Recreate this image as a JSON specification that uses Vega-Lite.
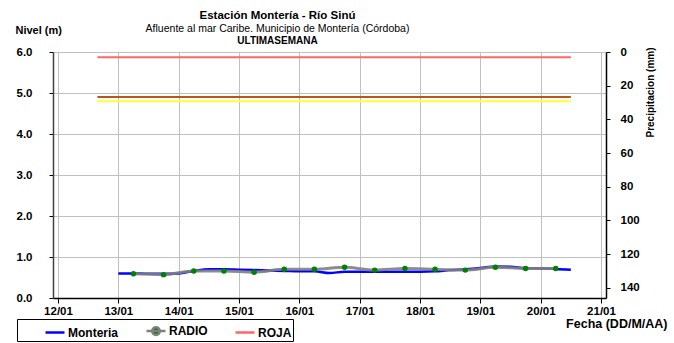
{
  "$schema": "https://vega.github.io/schema/vega-lite/v6.json",
  "width": 553,
  "height": 246,
  "autosize": "none",
  "padding": {"left": 53, "top": 52, "right": 68, "bottom": 45},
  "background": "white",
  "config": {
    "font": "Liberation Sans",
    "view": {"stroke": null},
    "axis": {"labelFont": "Liberation Sans", "titleFont": "Liberation Sans", "labelFontWeight": "bold", "labelFontSize": 11.5, "labelColor": "black", "titleColor": "black", "domainColor": "black", "tickColor": "black", "gridColor": "#C0C0C0"}
  },
  "title": {
    "text": "Estación Montería - Río Sinú",
    "subtitle": "Afluente al mar Caribe. Municipio de Montería (Córdoba)",
    "anchor": "middle",
    "dx": -52,
    "font": "Liberation Sans",
    "fontSize": 11.5,
    "fontWeight": "bold",
    "color": "black",
    "subtitleFont": "Liberation Sans",
    "subtitleFontSize": 10.5,
    "subtitleColor": "black",
    "subtitlePadding": 2,
    "offset": -10
  },
  "datasets": {
    "umbrales": [
      {"series": "ROJA", "fecha": "2024-01-12T15:40:00Z", "nivel": 5.87},
      {"series": "ROJA", "fecha": "2024-01-20T12:00:00Z", "nivel": 5.87},
      {"series": "NARANJA", "fecha": "2024-01-12T15:40:00Z", "nivel": 4.9},
      {"series": "NARANJA", "fecha": "2024-01-20T12:00:00Z", "nivel": 4.9},
      {"series": "AMARILLA", "fecha": "2024-01-12T15:40:00Z", "nivel": 4.8},
      {"series": "AMARILLA", "fecha": "2024-01-20T12:00:00Z", "nivel": 4.8}
    ],
    "monteria": [
      {"series": "Monteria", "fecha": "2024-01-13T00:00:00Z", "nivel": 0.6},
      {"series": "Monteria", "fecha": "2024-01-13T06:00:00Z", "nivel": 0.6},
      {"series": "Monteria", "fecha": "2024-01-13T12:00:00Z", "nivel": 0.59},
      {"series": "Monteria", "fecha": "2024-01-13T18:00:00Z", "nivel": 0.59},
      {"series": "Monteria", "fecha": "2024-01-14T00:00:00Z", "nivel": 0.6},
      {"series": "Monteria", "fecha": "2024-01-14T06:00:00Z", "nivel": 0.66},
      {"series": "Monteria", "fecha": "2024-01-14T12:00:00Z", "nivel": 0.7},
      {"series": "Monteria", "fecha": "2024-01-14T18:00:00Z", "nivel": 0.7},
      {"series": "Monteria", "fecha": "2024-01-15T00:00:00Z", "nivel": 0.69},
      {"series": "Monteria", "fecha": "2024-01-15T06:00:00Z", "nivel": 0.68},
      {"series": "Monteria", "fecha": "2024-01-15T12:00:00Z", "nivel": 0.67},
      {"series": "Monteria", "fecha": "2024-01-15T18:00:00Z", "nivel": 0.66},
      {"series": "Monteria", "fecha": "2024-01-16T00:00:00Z", "nivel": 0.65},
      {"series": "Monteria", "fecha": "2024-01-16T06:00:00Z", "nivel": 0.65},
      {"series": "Monteria", "fecha": "2024-01-16T12:00:00Z", "nivel": 0.61},
      {"series": "Monteria", "fecha": "2024-01-16T18:00:00Z", "nivel": 0.64},
      {"series": "Monteria", "fecha": "2024-01-17T00:00:00Z", "nivel": 0.64},
      {"series": "Monteria", "fecha": "2024-01-17T06:00:00Z", "nivel": 0.64},
      {"series": "Monteria", "fecha": "2024-01-17T12:00:00Z", "nivel": 0.64},
      {"series": "Monteria", "fecha": "2024-01-17T18:00:00Z", "nivel": 0.64},
      {"series": "Monteria", "fecha": "2024-01-18T00:00:00Z", "nivel": 0.64},
      {"series": "Monteria", "fecha": "2024-01-18T06:00:00Z", "nivel": 0.65},
      {"series": "Monteria", "fecha": "2024-01-18T12:00:00Z", "nivel": 0.68},
      {"series": "Monteria", "fecha": "2024-01-18T18:00:00Z", "nivel": 0.7},
      {"series": "Monteria", "fecha": "2024-01-19T00:00:00Z", "nivel": 0.73},
      {"series": "Monteria", "fecha": "2024-01-19T06:00:00Z", "nivel": 0.77},
      {"series": "Monteria", "fecha": "2024-01-19T12:00:00Z", "nivel": 0.76},
      {"series": "Monteria", "fecha": "2024-01-19T18:00:00Z", "nivel": 0.73},
      {"series": "Monteria", "fecha": "2024-01-20T00:00:00Z", "nivel": 0.72},
      {"series": "Monteria", "fecha": "2024-01-20T06:00:00Z", "nivel": 0.71},
      {"series": "Monteria", "fecha": "2024-01-20T12:00:00Z", "nivel": 0.69}
    ],
    "radio": [
      {"series": "RADIO", "fecha": "2024-01-13T06:00:00Z", "nivel": 0.59},
      {"series": "RADIO", "fecha": "2024-01-13T18:00:00Z", "nivel": 0.57},
      {"series": "RADIO", "fecha": "2024-01-14T06:00:00Z", "nivel": 0.66},
      {"series": "RADIO", "fecha": "2024-01-14T18:00:00Z", "nivel": 0.66},
      {"series": "RADIO", "fecha": "2024-01-15T06:00:00Z", "nivel": 0.63},
      {"series": "RADIO", "fecha": "2024-01-15T18:00:00Z", "nivel": 0.7},
      {"series": "RADIO", "fecha": "2024-01-16T06:00:00Z", "nivel": 0.7},
      {"series": "RADIO", "fecha": "2024-01-16T18:00:00Z", "nivel": 0.75},
      {"series": "RADIO", "fecha": "2024-01-17T06:00:00Z", "nivel": 0.68},
      {"series": "RADIO", "fecha": "2024-01-17T18:00:00Z", "nivel": 0.72},
      {"series": "RADIO", "fecha": "2024-01-18T06:00:00Z", "nivel": 0.7},
      {"series": "RADIO", "fecha": "2024-01-18T18:00:00Z", "nivel": 0.68},
      {"series": "RADIO", "fecha": "2024-01-19T06:00:00Z", "nivel": 0.75},
      {"series": "RADIO", "fecha": "2024-01-19T18:00:00Z", "nivel": 0.72},
      {"series": "RADIO", "fecha": "2024-01-20T06:00:00Z", "nivel": 0.72}
    ],
    "precip": [
      {"fecha": "2024-01-13T12:00:00Z", "lluvia": 0},
      {"fecha": "2024-01-14T12:00:00Z", "lluvia": 0},
      {"fecha": "2024-01-15T12:00:00Z", "lluvia": 0},
      {"fecha": "2024-01-16T12:00:00Z", "lluvia": 0},
      {"fecha": "2024-01-17T12:00:00Z", "lluvia": 0},
      {"fecha": "2024-01-18T12:00:00Z", "lluvia": 0},
      {"fecha": "2024-01-19T12:00:00Z", "lluvia": 0},
      {"fecha": "2024-01-20T12:00:00Z", "lluvia": 0}
    ]
  },
  "layer": [
    {
      "encoding": {
        "x": {
          "field": "fecha", "type": "temporal",
          "scale": {"type": "utc", "domain": [{"year": 2024, "month": 1, "date": 12, "utc": true}, {"year": 2024, "month": 1, "date": 21, "utc": true}]},
          "axis": {"format": "%d/%m", "tickCount": {"interval": "day", "step": 1}, "grid": true, "tickSize": 5, "labelPadding": 2, "labelFlush": false, "domainWidth": 1.5,
                   "title": "Fecha (DD/M/AA)", "titleFontSize": 12.5, "titleFontWeight": "bold", "titleX": 614, "titleY": 25, "titleAlign": "right", "titleBaseline": "middle"}
        },
        "y": {
          "field": "nivel", "type": "quantitative",
          "scale": {"domain": [0, 6], "nice": false, "zero": true},
          "axis": {"values": [0, 1, 2, 3, 4, 5, 6], "format": ".1f", "grid": true, "tickSize": 4, "labelPadding": 17, "domainWidth": 1.5, "domainColor": "#404040",
                   "title": "Nivel (m)", "titleAngle": 0, "titleFontSize": 11, "titleFontWeight": "bold", "titleX": -38, "titleY": -22, "titleAlign": "left", "titleBaseline": "middle"}
        },
        "color": {
          "field": "series", "type": "nominal",
          "scale": {"domain": ["Monteria", "RADIO", "ROJA", "NARANJA", "AMARILLA"], "range": ["#0000FF", "#808080", "#FF6666", "#B4581E", "#FFFF33"]},
          "legend": {
            "values": ["Monteria", "RADIO", "ROJA"],
            "title": null, "orient": "none", "legendX": -36, "legendY": 267, "direction": "horizontal",
            "strokeColor": "black", "padding": 1, "columnPadding": 0, "symbolOffset": 26,
            "symbolType": "stroke", "symbolSize": 361, "symbolStrokeWidth": 2.5,
            "labelFont": "Liberation Sans", "labelFontSize": 12, "labelFontWeight": "bold", "labelColor": "black", "labelOffset": 2,
            "encode": {"symbols": {"update": {
              "shape": {"signal": "datum.value === 'RADIO' ? 'M-1,0L1,0M-0.4,0A0.4,0.4,0,1,1,0.4,0A0.4,0.4,0,1,1,-0.4,0' : 'stroke'"},
              "fill": {"signal": "datum.value === 'RADIO' ? '#008000' : 'transparent'"}
            }}}
          }
        }
      },
      "layer": [
        {"data": {"name": "umbrales"}, "mark": {"type": "line", "strokeWidth": 2}, "encoding": {"detail": {"field": "series"}}},
        {"data": {"name": "monteria"}, "mark": {"type": "line", "strokeWidth": 2.5, "interpolate": "monotone"}},
        {"data": {"name": "radio"}, "mark": {"type": "line", "strokeWidth": 3, "interpolate": "monotone", "opacity": 0.9}},
        {"data": {"name": "radio"}, "mark": {"type": "circle", "size": 30, "opacity": 1}, "encoding": {"color": {"value": "#008000"}}}
      ]
    },
    {
      "data": {"name": "precip"},
      "mark": {"type": "bar", "color": "#0000CC", "width": 10},
      "encoding": {
        "x": {"field": "fecha", "type": "temporal",
              "axis": {"orient": "top", "labels": false, "ticks": false, "domain": false, "grid": false,
                       "title": "ULTIMASEMANA", "titleFontSize": 10, "titleFontWeight": "bold", "titleX": 224, "titleY": -12, "titleAlign": "center", "titleBaseline": "middle"}},
        "y": {"field": "lluvia", "type": "quantitative",
              "scale": {"domain": [0, 146], "reverse": true, "nice": false},
              "axis": {"orient": "right", "values": [0, 20, 40, 60, 80, 100, 120, 140], "grid": false, "tickSize": 4, "labelPadding": 10, "domainWidth": 1.5,
                       "title": "Precipitacion (mm)", "titleFontSize": 10, "titleFontWeight": "bold", "titleAngle": 270, "titleX": 44, "titleY": 40, "titleAlign": "center", "titleBaseline": "middle"}}
      }
    }
  ],
  "resolve": {"scale": {"y": "independent"}, "axis": {"x": "independent"}}
}
